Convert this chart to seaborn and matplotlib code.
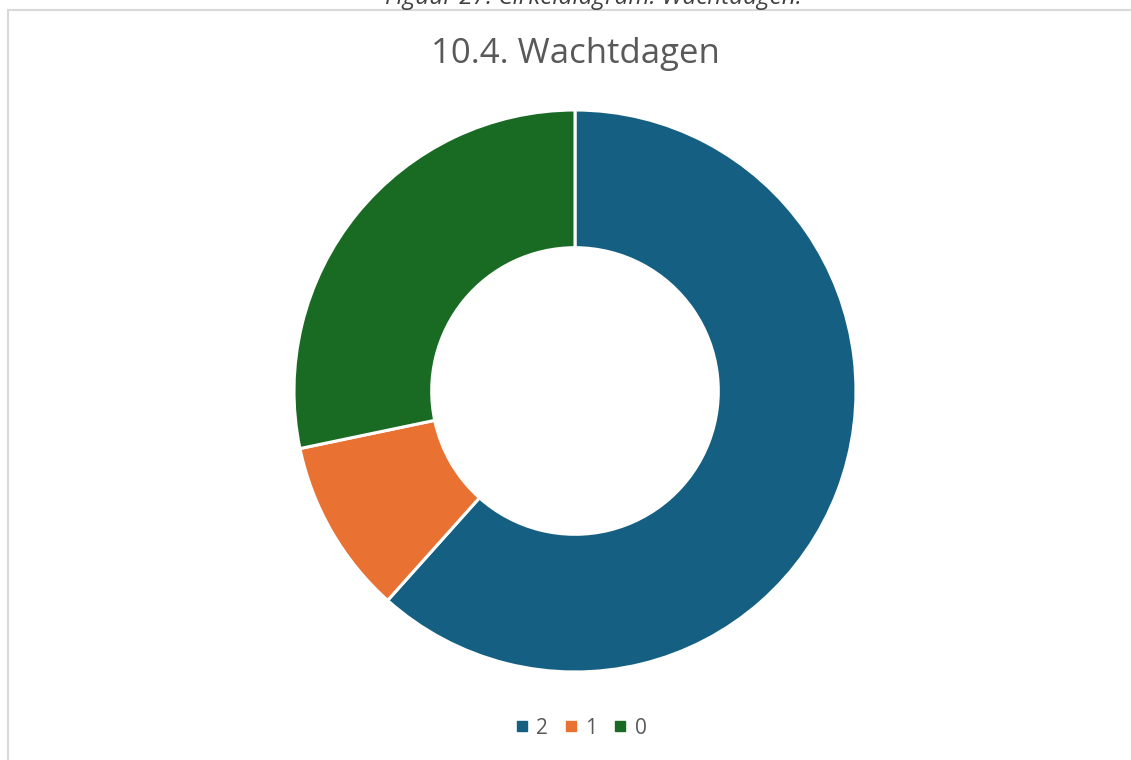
import numpy as np
import seaborn as sns
import matplotlib.pyplot as plt
from matplotlib.patches import Rectangle
from matplotlib.lines import Line2D

# Wachtdagen (aantal respondenten per categorie)
labels = ['2', '1', '0']
counts = [61, 10, 28]
colors = ['#156082', '#E97132', '#196B24']

sns.set_theme(style='white')
plt.rcParams['font.family'] = ['Open Sans', 'DejaVu Sans']

W, H = 1131, 760
fig = plt.figure(figsize=(W / 100, H / 100), dpi=100)

# chart frame (light grey border, as in the document)
fig.patches.append(Rectangle((8 / W, -0.1), 1.2, 1 - 10 / H + 0.1, transform=fig.transFigure,
                             facecolor='none', edgecolor='#D9D9D9', linewidth=1.5))

# caption above the chart, cut off at the top like in the document
fig.text(593 / W, 1 - 4 / H, 'Figuur 27: Cirkeldiagram: Wachtdagen.', ha='center', va='baseline',
         fontsize=17.5, style='italic', color='#404040')

# donut
cx, cy, r = 575, 391, 281
ax = fig.add_axes([(cx - r) / W, (H - cy - r) / H, 2 * r / W, 2 * r / H])
ax.pie(counts, colors=colors, startangle=90, counterclock=False, radius=1,
       wedgeprops=dict(width=0.49, edgecolor='white', linewidth=2.2))
ax.set_xlim(-1, 1)
ax.set_ylim(-1, 1)
ax.set_aspect('equal')
ax.axis('off')

fig.text(cx / W, 1 - 54 / H, '10.4. Wachtdagen', ha='center', va='center',
         fontsize=25, color='#595959')

handles = [Line2D([], [], marker='s', linestyle='none', markersize=7,
                  markerfacecolor=c, markeredgecolor=c) for c in colors]
fig.legend(handles, labels, loc='center', bbox_to_anchor=(579 / W, 1 - 728 / H), ncol=3,
           frameon=False, fontsize=15, labelcolor='#595959', handletextpad=0.2,
           columnspacing=0.6, handlelength=1.0)

fig.savefig('out.png', dpi=100)
